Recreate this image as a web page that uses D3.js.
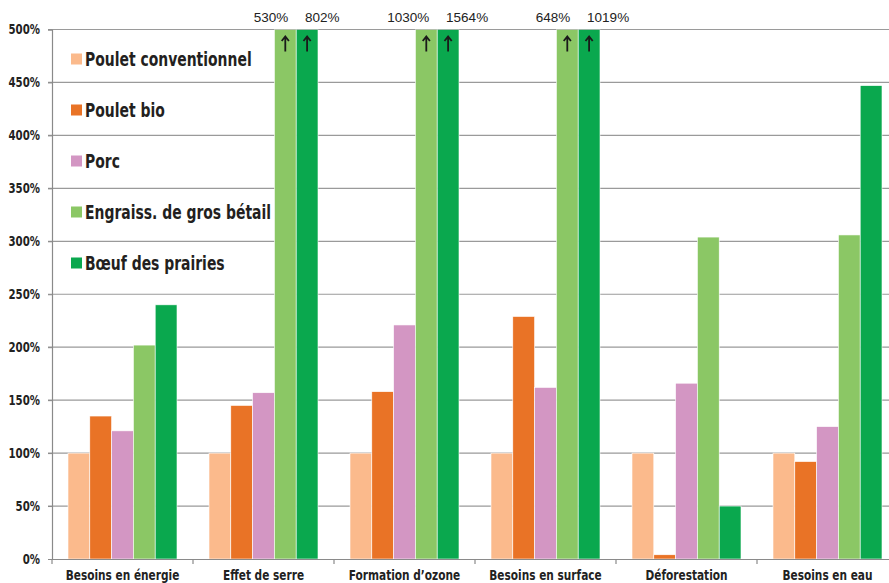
<!DOCTYPE html>
<html>
<head>
<meta charset="utf-8">
<script src="https://cdn.jsdelivr.net/npm/d3@7"></script>
<style>
  html, body { margin: 0; padding: 0; background: #fff; }
  svg { display: block; }
  .cond { font-family: "DejaVu Sans Condensed", "DejaVu Sans", sans-serif; font-weight: bold; }
  .plain { font-family: "Liberation Sans", Arial, sans-serif; }
</style>
</head>
<body>
<svg id="chart" width="889" height="583"></svg>
<script>
// Categories (impact indicators) and animal production systems
const categories = ["Besoins en énergie", "Effet de serre", "Formation d’ozone", "Besoins en surface", "Déforestation", "Besoins en eau"];
const seriesNames = ["Poulet conventionnel", "Poulet bio", "Porc", "Engraiss. de gros bétail", "Bœuf des prairies"];
const seriesColors = ["#FBBA8C", "#E97326", "#D396C3", "#8BC765", "#0AA84E"];

// Values in % relative to conventional chicken (= 100 %)
const pouletConventionnel = [100, 100, 100, 100, 100, 100];
const pouletBio           = [135, 145, 158, 229, 4, 92];
const porc                = [121, 157, 221, 162, 166, 125];
const grosBetail          = [202, 530, 1030, 648, 304, 306];
const boeufPrairies       = [240, 802, 1564, 1019, 50, 447];
const seriesValues = [pouletConventionnel, pouletBio, porc, grosBetail, boeufPrairies];

const yTicks = [0, 50, 100, 150, 200, 250, 300, 350, 400, 450, 500];
const yMax = 500;

const svg = d3.select("#chart");
const plotLeft = 52, plotRight = 898, plotTop = 29.5, plotBottom = 559;
const squeeze = 0.84;       // horizontal compression for condensed bold axis labels
const legendSqueeze = 0.815;

const x = d3.scaleBand().domain(categories).range([plotLeft, plotRight]).padding(0);
const xs = d3.scaleBand().domain(d3.range(seriesNames.length)).range([16, x.bandwidth() - 16]).padding(0);
const y = d3.scaleLinear().domain([0, yMax]).range([plotBottom, plotTop]);

// Horizontal gridlines
svg.append("g")
  .selectAll("line")
  .data(yTicks.filter(t => t > 0))
  .join("line")
  .attr("x1", plotLeft - 4).attr("x2", 889)
  .attr("y1", d => y(d)).attr("y2", d => y(d))
  .attr("stroke", "#9a9a9a").attr("stroke-width", 1.2);

// Bars, clipped at the top of the scale
svg.append("defs").append("clipPath").attr("id", "plotclip")
  .append("rect").attr("x", plotLeft).attr("y", plotTop).attr("width", plotRight - plotLeft).attr("height", plotBottom - plotTop);

const rows = [];
categories.forEach((c, ci) => {
  seriesValues.forEach((vals, si) => rows.push({ c, si, v: vals[ci] }));
});

svg.append("g").attr("clip-path", "url(#plotclip)")
  .selectAll("rect")
  .data(rows)
  .join("rect")
  .attr("x", d => x(d.c) + xs(d.si))
  .attr("width", xs.bandwidth())
  .attr("y", d => y(Math.min(d.v, yMax)))
  .attr("height", d => y(0) - y(Math.min(d.v, yMax)))
  .attr("fill", d => seriesColors[d.si])
  .attr("stroke", "#fff").attr("stroke-width", 0.6);

// Values beyond the scale: up arrow inside the bar and value above the plot
const over = rows.filter(d => d.v > yMax);
const barCenter = d => x(d.c) + xs(d.si) + xs.bandwidth() / 2;
svg.append("g")
  .selectAll("path")
  .data(over)
  .join("path")
  .attr("transform", d => `translate(${barCenter(d)},${plotTop})`)
  .attr("d", "M0,7.5 L0,22 M-3.6,11.5 L0,7 L3.6,11.5")
  .attr("fill", "none")
  .attr("stroke", "#1a1a1a")
  .attr("stroke-width", 1.8);

svg.append("g")
  .selectAll("text")
  .data(over)
  .join("text")
  .attr("class", "plain")
  .attr("x", d => d.si === 3 ? barCenter(d) + 3 : barCenter(d) - 2)
  .attr("y", 22)
  .attr("text-anchor", d => d.si === 3 ? "end" : "start")
  .attr("font-size", 13.5)
  .attr("fill", "#222")
  .text(d => d.v + "%");

// Y axis
const yAxis = svg.append("g")
  .attr("transform", `translate(${plotLeft},0)`)
  .call(d3.axisLeft(y).tickValues(yTicks).tickSize(4).tickPadding(8).tickFormat(d => d + "%"));
yAxis.select(".domain").attr("stroke", "#8a8a8a").attr("stroke-width", 1.2);
yAxis.selectAll(".tick line").attr("stroke", "#8a8a8a");
yAxis.selectAll(".tick text").attr("class", "cond").attr("font-size", 13.5).attr("fill", "#222")
  .attr("x", -12 / squeeze)
  .attr("transform", `scale(${squeeze},1)`);

// X axis
const xAxis = svg.append("g")
  .attr("transform", `translate(0,${plotBottom})`)
  .call(d3.axisBottom(x).tickSize(0).tickPadding(14).tickFormat(() => ""));
xAxis.select(".domain").attr("stroke", "#8a8a8a").attr("stroke-width", 1.2);
svg.append("g")
  .selectAll("line")
  .data(categories)
  .join("line")
  .attr("x1", d => x(d)).attr("x2", d => x(d))
  .attr("y1", plotBottom).attr("y2", plotBottom + 5)
  .attr("stroke", "#8a8a8a").attr("stroke-width", 1.2);
svg.append("g")
  .selectAll("text")
  .data(categories)
  .join("text")
  .attr("class", "cond")
  .attr("transform", d => `translate(${x(d) + x.bandwidth() / 2},579.5) scale(${squeeze},1)`)
  .attr("text-anchor", "middle")
  .attr("font-size", 14)
  .attr("fill", "#222")
  .text(d => d);

// Legend
const legend = svg.append("g").attr("transform", "translate(71,59)");
const li = legend.selectAll("g").data(seriesNames).join("g")
  .attr("transform", (d, i) => `translate(0,${i * 51})`);
li.append("rect").attr("x", 0).attr("y", -5.5).attr("width", 11).attr("height", 11)
  .attr("fill", (d, i) => seriesColors[i]);
li.append("text").attr("class", "cond")
  .attr("transform", `translate(14,7) scale(${legendSqueeze},1)`)
  .attr("font-size", 19)
  .attr("fill", "#231f20")
  .text(d => d);
</script>
</body>
</html>
